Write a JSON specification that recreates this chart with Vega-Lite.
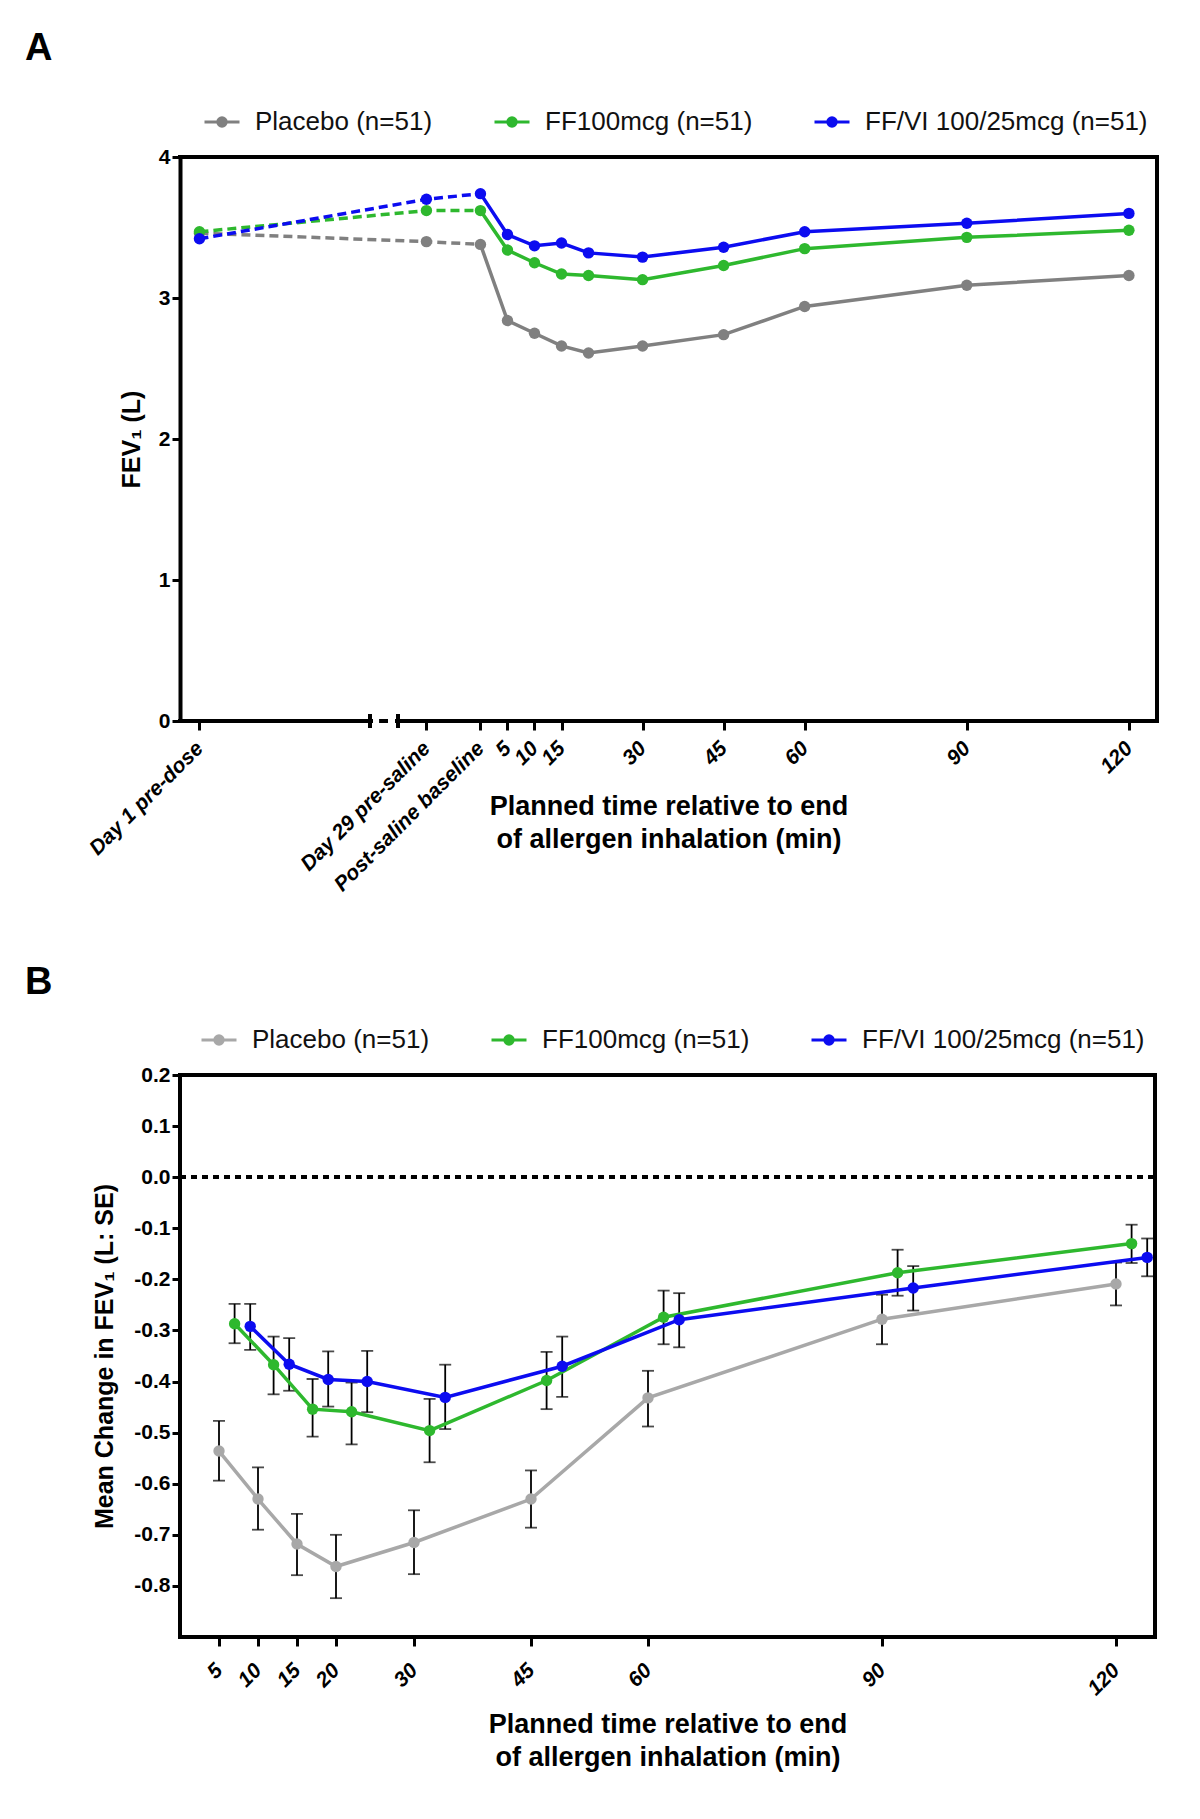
{
  "$schema": "https://vega.github.io/schema/vega-lite/v6.json",
  "background": "white",
  "padding": {"left": 23, "top": 30, "right": 5, "bottom": 5},
  "bounds": "flush",
  "spacing": 354,
  "config": {
    "font": "Liberation Sans",
    "view": {"stroke": null},
    "axis": {"domainColor": "black", "tickColor": "black", "labelColor": "black", "titleColor": "black", "grid": false, "labelFont": "Liberation Sans", "titleFont": "Liberation Sans"},
    "title": {"font": "Liberation Sans", "color": "black"}
  },
  "resolve": {
    "scale": {"x": "independent", "y": "independent", "color": "independent", "fill": "independent", "stroke": "independent"},
    "legend": {"color": "independent", "fill": "independent", "stroke": "independent"}
  },
  "datasets": {
    "fevA": [
      {"series": "Placebo (n=51)", "t": -52, "fev": 3.46},
      {"series": "Placebo (n=51)", "t": -10, "fev": 3.40},
      {"series": "Placebo (n=51)", "t": 0, "fev": 3.38},
      {"series": "Placebo (n=51)", "t": 5, "fev": 2.84},
      {"series": "Placebo (n=51)", "t": 10, "fev": 2.75},
      {"series": "Placebo (n=51)", "t": 15, "fev": 2.66},
      {"series": "Placebo (n=51)", "t": 20, "fev": 2.61},
      {"series": "Placebo (n=51)", "t": 30, "fev": 2.66},
      {"series": "Placebo (n=51)", "t": 45, "fev": 2.74},
      {"series": "Placebo (n=51)", "t": 60, "fev": 2.94},
      {"series": "Placebo (n=51)", "t": 90, "fev": 3.09},
      {"series": "Placebo (n=51)", "t": 120, "fev": 3.16},
      {"series": "FF100mcg (n=51)", "t": -52, "fev": 3.47},
      {"series": "FF100mcg (n=51)", "t": -10, "fev": 3.62},
      {"series": "FF100mcg (n=51)", "t": 0, "fev": 3.62},
      {"series": "FF100mcg (n=51)", "t": 5, "fev": 3.34},
      {"series": "FF100mcg (n=51)", "t": 10, "fev": 3.25},
      {"series": "FF100mcg (n=51)", "t": 15, "fev": 3.17},
      {"series": "FF100mcg (n=51)", "t": 20, "fev": 3.16},
      {"series": "FF100mcg (n=51)", "t": 30, "fev": 3.13},
      {"series": "FF100mcg (n=51)", "t": 45, "fev": 3.23},
      {"series": "FF100mcg (n=51)", "t": 60, "fev": 3.35},
      {"series": "FF100mcg (n=51)", "t": 90, "fev": 3.43},
      {"series": "FF100mcg (n=51)", "t": 120, "fev": 3.48},
      {"series": "FF/VI 100/25mcg (n=51)", "t": -52, "fev": 3.42},
      {"series": "FF/VI 100/25mcg (n=51)", "t": -10, "fev": 3.70},
      {"series": "FF/VI 100/25mcg (n=51)", "t": 0, "fev": 3.74},
      {"series": "FF/VI 100/25mcg (n=51)", "t": 5, "fev": 3.45},
      {"series": "FF/VI 100/25mcg (n=51)", "t": 10, "fev": 3.37},
      {"series": "FF/VI 100/25mcg (n=51)", "t": 15, "fev": 3.39},
      {"series": "FF/VI 100/25mcg (n=51)", "t": 20, "fev": 3.32},
      {"series": "FF/VI 100/25mcg (n=51)", "t": 30, "fev": 3.29},
      {"series": "FF/VI 100/25mcg (n=51)", "t": 45, "fev": 3.36},
      {"series": "FF/VI 100/25mcg (n=51)", "t": 60, "fev": 3.47},
      {"series": "FF/VI 100/25mcg (n=51)", "t": 90, "fev": 3.53},
      {"series": "FF/VI 100/25mcg (n=51)", "t": 120, "fev": 3.60}
    ],
    "chgB": [
      {"series": "Placebo (n=51)", "t": 5, "chg": -0.536, "lo": -0.594, "hi": -0.477},
      {"series": "Placebo (n=51)", "t": 10, "chg": -0.630, "lo": -0.690, "hi": -0.568},
      {"series": "Placebo (n=51)", "t": 15, "chg": -0.718, "lo": -0.779, "hi": -0.659},
      {"series": "Placebo (n=51)", "t": 20, "chg": -0.762, "lo": -0.824, "hi": -0.700},
      {"series": "Placebo (n=51)", "t": 30, "chg": -0.715, "lo": -0.777, "hi": -0.652},
      {"series": "Placebo (n=51)", "t": 45, "chg": -0.630, "lo": -0.686, "hi": -0.574},
      {"series": "Placebo (n=51)", "t": 60, "chg": -0.432, "lo": -0.488, "hi": -0.379},
      {"series": "Placebo (n=51)", "t": 90, "chg": -0.278, "lo": -0.327, "hi": -0.230},
      {"series": "Placebo (n=51)", "t": 120, "chg": -0.209, "lo": -0.251, "hi": -0.167},
      {"series": "FF100mcg (n=51)", "t": 7, "chg": -0.287, "lo": -0.325, "hi": -0.248},
      {"series": "FF100mcg (n=51)", "t": 12, "chg": -0.367, "lo": -0.425, "hi": -0.312},
      {"series": "FF100mcg (n=51)", "t": 17, "chg": -0.454, "lo": -0.508, "hi": -0.395},
      {"series": "FF100mcg (n=51)", "t": 22, "chg": -0.459, "lo": -0.523, "hi": -0.402},
      {"series": "FF100mcg (n=51)", "t": 32, "chg": -0.496, "lo": -0.558, "hi": -0.434},
      {"series": "FF100mcg (n=51)", "t": 47, "chg": -0.398, "lo": -0.454, "hi": -0.342},
      {"series": "FF100mcg (n=51)", "t": 62, "chg": -0.274, "lo": -0.327, "hi": -0.222},
      {"series": "FF100mcg (n=51)", "t": 92, "chg": -0.187, "lo": -0.232, "hi": -0.142},
      {"series": "FF100mcg (n=51)", "t": 122, "chg": -0.130, "lo": -0.168, "hi": -0.093},
      {"series": "FF/VI 100/25mcg (n=51)", "t": 9, "chg": -0.292, "lo": -0.338, "hi": -0.248},
      {"series": "FF/VI 100/25mcg (n=51)", "t": 14, "chg": -0.366, "lo": -0.418, "hi": -0.315},
      {"series": "FF/VI 100/25mcg (n=51)", "t": 19, "chg": -0.396, "lo": -0.449, "hi": -0.341},
      {"series": "FF/VI 100/25mcg (n=51)", "t": 24, "chg": -0.400, "lo": -0.460, "hi": -0.340},
      {"series": "FF/VI 100/25mcg (n=51)", "t": 34, "chg": -0.431, "lo": -0.493, "hi": -0.367},
      {"series": "FF/VI 100/25mcg (n=51)", "t": 49, "chg": -0.370, "lo": -0.430, "hi": -0.312},
      {"series": "FF/VI 100/25mcg (n=51)", "t": 64, "chg": -0.279, "lo": -0.333, "hi": -0.227},
      {"series": "FF/VI 100/25mcg (n=51)", "t": 94, "chg": -0.217, "lo": -0.261, "hi": -0.174},
      {"series": "FF/VI 100/25mcg (n=51)", "t": 124, "chg": -0.157, "lo": -0.194, "hi": -0.120}
    ]
  },
  "vconcat": [
    {
      "width": 977,
      "height": 564,
      "title": {"text": "A", "anchor": "start", "frame": "group", "dx": -155, "fontSize": 38, "fontWeight": "bold", "offset": 35},
      "data": {"name": "fevA"},
      "encoding": {
        "x": {"field": "t", "type": "quantitative", "scale": {"domain": [-55.6, 125.2], "nice": false, "zero": false},
          "axis": {"values": [-52, -10, 0, 5, 10, 15, 30, 45, 60, 90, 120],
            "labelExpr": "datum.value == -52 ? 'Day 1 pre-dose' : datum.value == -10 ? 'Day 29 pre-saline' : datum.value == 0 ? 'Post-saline baseline' : datum.label",
            "labelAngle": -45, "labelAlign": "right", "labelBaseline": "middle", "labelFontSize": 21, "labelFontWeight": "bold", "labelFontStyle": "italic", "labelOverlap": false, "labelBound": false, "labelFlush": false, "labelLimit": 400,
            "domain": false, "tickWidth": 3, "tickSize": 9, "labelPadding": 15,
            "title": ["Planned time relative to end", "of allergen inhalation (min)"], "titleFontSize": 27, "titleFontWeight": "bold", "titleLineHeight": 33, "minExtent": 60, "maxExtent": 60, "titlePadding": 12}},
        "y": {"field": "fev", "type": "quantitative", "scale": {"domain": [0, 4], "nice": false},
          "axis": {"values": [0, 1, 2, 3, 4], "format": "d", "title": "FEV₁ (L)", "domainWidth": 4, "tickWidth": 3, "tickSize": 8, "labelFontSize": 21, "labelFontWeight": "bold", "labelPadding": 2, "labelFlush": false, "titleFontSize": 25, "titleFontWeight": "bold", "titlePadding": 14}}
      },
      "layer": [
        {"mark": {"type": "rule", "strokeWidth": 4, "color": "black", "strokeCap": "square"},
         "encoding": {"x": {"datum": -55.6, "type": "quantitative"}, "x2": {"datum": 125.2}, "y": {"datum": 4, "type": "quantitative"}}},
        {"mark": {"type": "rule", "strokeWidth": 4, "color": "black", "strokeCap": "square"},
         "encoding": {"x": {"datum": 125.2, "type": "quantitative"}, "y": {"datum": 0, "type": "quantitative"}, "y2": {"datum": 4}}},
        {"mark": {"type": "rule", "strokeWidth": 4, "color": "black", "strokeCap": "square"},
         "encoding": {"x": {"datum": -55.6, "type": "quantitative"}, "x2": {"datum": -20.4}, "y": {"datum": 0, "type": "quantitative"}}},
        {"mark": {"type": "rule", "strokeWidth": 4, "color": "black", "strokeCap": "square"},
         "encoding": {"x": {"datum": -15.3, "type": "quantitative"}, "x2": {"datum": 125.2}, "y": {"datum": 0, "type": "quantitative"}}},
        {"mark": {"type": "rule", "strokeWidth": 3.5, "color": "black"},
         "encoding": {"x": {"datum": -20.4, "type": "quantitative"}, "y": {"datum": -0.045, "type": "quantitative"}, "y2": {"datum": 0.045}}},
        {"mark": {"type": "rule", "strokeWidth": 3.5, "color": "black"},
         "encoding": {"x": {"datum": -15.3, "type": "quantitative"}, "y": {"datum": -0.045, "type": "quantitative"}, "y2": {"datum": 0.045}}},
        {"mark": {"type": "rule", "strokeWidth": 4, "color": "black"},
         "encoding": {"x": {"datum": -18.6, "type": "quantitative"}, "x2": {"datum": -17.2}, "y": {"datum": 0, "type": "quantitative"}}},
        {"transform": [{"filter": "datum.t >= 0"}],
         "mark": {"type": "line", "strokeWidth": 3.5},
         "encoding": {"color": {"field": "series", "type": "nominal", "scale": {"domain": ["Placebo (n=51)", "FF100mcg (n=51)", "FF/VI 100/25mcg (n=51)"], "range": ["#808080", "#2eb82e", "#0c0cf0"]},
           "legend": {"orient": "none", "legendX": 23, "legendY": -54, "direction": "horizontal", "title": null, "symbolType": "M-1,0H1M-0.24,0A0.24,0.24,0,1,0,0.24,0A0.24,0.24,0,1,0,-0.24,0Z", "symbolSize": 1225, "symbolStrokeWidth": 3, "labelFontSize": 26, "labelColor": "#111111", "labelOffset": 14, "labelLimit": 400, "columnPadding": 55}}}},
        {"transform": [{"filter": "datum.t <= 0"}],
         "mark": {"type": "line", "strokeWidth": 3.5, "strokeDash": [9, 5]},
         "encoding": {"stroke": {"field": "series", "type": "nominal", "scale": {"domain": ["Placebo (n=51)", "FF100mcg (n=51)", "FF/VI 100/25mcg (n=51)"], "range": ["#808080", "#2eb82e", "#0c0cf0"]}, "legend": null}}},
        {"mark": {"type": "point", "filled": true, "size": 130, "opacity": 1},
         "encoding": {
           "fill": {"field": "series", "type": "nominal", "scale": {"domain": ["Placebo (n=51)", "FF100mcg (n=51)", "FF/VI 100/25mcg (n=51)"], "range": ["#808080", "#2eb82e", "#0c0cf0"]}, "legend": null}
         }}
      ]
    },
    {
      "width": 975,
      "height": 562,
      "view": {"stroke": "black", "strokeWidth": 4},
      "title": {"text": "B", "anchor": "start", "frame": "group", "dx": -155, "fontSize": 38, "fontWeight": "bold", "offset": 19},
      "data": {"name": "chgB"},
      "encoding": {
        "x": {"field": "t", "type": "quantitative", "scale": {"domain": [0, 125], "nice": false, "zero": false},
          "axis": {"values": [5, 10, 15, 20, 30, 45, 60, 90, 120],
            "labelAngle": -45, "labelAlign": "right", "labelBaseline": "middle", "labelFontSize": 21, "labelFontWeight": "bold", "labelFontStyle": "italic", "labelOverlap": false, "labelBound": false, "labelFlush": false,
            "domain": false, "tickWidth": 3, "tickSize": 9, "labelPadding": 21,
            "title": ["Planned time relative to end", "of allergen inhalation (min)"], "titleFontSize": 27, "titleFontWeight": "bold", "titleLineHeight": 33, "minExtent": 60, "maxExtent": 60, "titlePadding": 14}},
        "y": {"field": "chg", "type": "quantitative", "scale": {"domain": [-0.9, 0.2], "nice": false, "zero": false},
          "axis": {"values": [-0.8, -0.7, -0.6, -0.5, -0.4, -0.3, -0.2, -0.1, 0, 0.1, 0.2], "format": ".1f", "labelExpr": "replace(datum.label, '−', '-')", "title": "Mean Change in FEV₁ (L: SE)", "domain": false, "tickWidth": 3, "tickSize": 8, "labelFontSize": 21, "labelFontWeight": "bold", "labelPadding": 2, "labelFlush": false, "titleFontSize": 25, "titleFontWeight": "bold", "titlePadding": 16}}
      },
      "layer": [
        {"mark": {"type": "rule", "strokeWidth": 3.5, "color": "black", "strokeDash": [6, 5]},
         "encoding": {"y": {"datum": 0, "type": "quantitative"}, "x": {"datum": 0, "type": "quantitative"}, "x2": {"datum": 125}}},
        {"mark": {"type": "errorbar", "ticks": {"size": 12}, "thickness": 1.8, "color": "black"},
         "encoding": {"y": {"field": "lo", "type": "quantitative", "title": "Mean Change in FEV₁ (L: SE)"}, "y2": {"field": "hi"}}},
        {"mark": {"type": "line", "strokeWidth": 3.5},
         "encoding": {"color": {"field": "series", "type": "nominal", "scale": {"domain": ["Placebo (n=51)", "FF100mcg (n=51)", "FF/VI 100/25mcg (n=51)"], "range": ["#a8a8a8", "#2eb82e", "#0c0cf0"]},
           "legend": {"orient": "none", "legendX": 20, "legendY": -54, "direction": "horizontal", "title": null, "symbolType": "M-1,0H1M-0.24,0A0.24,0.24,0,1,0,0.24,0A0.24,0.24,0,1,0,-0.24,0Z", "symbolSize": 1225, "symbolStrokeWidth": 3, "labelFontSize": 26, "labelColor": "#111111", "labelOffset": 14, "labelLimit": 400, "columnPadding": 55}}}},
        {"mark": {"type": "point", "filled": true, "size": 130, "opacity": 1},
         "encoding": {
           "fill": {"field": "series", "type": "nominal", "scale": {"domain": ["Placebo (n=51)", "FF100mcg (n=51)", "FF/VI 100/25mcg (n=51)"], "range": ["#a8a8a8", "#2eb82e", "#0c0cf0"]}, "legend": null}
         }}
      ]
    }
  ]
}
